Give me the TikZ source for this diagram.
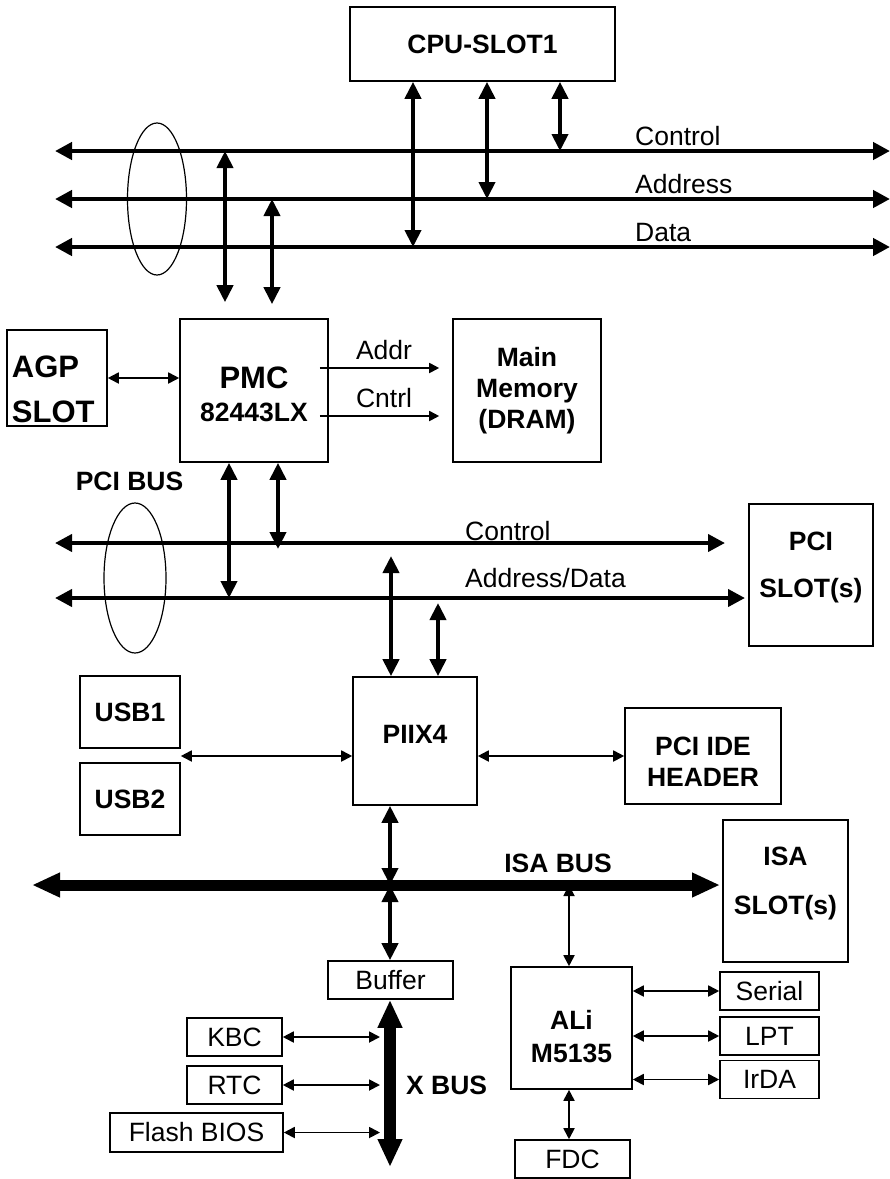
\documentclass[tikz,border=0pt]{standalone}
\usepackage{fontspec}
\setmainfont{Liberation Sans}
\usetikzlibrary{shapes,arrows.meta}

\begin{document}
\begin{tikzpicture}[x=1pt, y=-1pt,
        box/.style={draw, line width=1.6pt, align=center, inner sep=0pt, font=\fontsize{26.5}{31}\selectfont\bfseries},
        lbox/.style={draw, line width=1.6pt, align=center, inner sep=0pt, font=\fontsize{26.5}{31}\selectfont},
        lbl/.style={inner sep=0pt, font=\fontsize{26.5}{31}\selectfont},
        blbl/.style={inner sep=0pt, font=\fontsize{26.5}{31}\selectfont\bfseries},
        bus/.style={line width=4.5pt, {Triangle[length=17pt,width=17pt]}-{Triangle[length=17pt,width=17pt]}},
        tap/.style={line width=4pt, {Triangle[length=17pt,width=16pt]}-{Triangle[length=17pt,width=16pt]}},
        link/.style={line width=1.8pt, {Triangle[length=11pt,width=11pt]}-{Triangle[length=11pt,width=11pt]}},
        single/.style={line width=1.8pt, -{Triangle[length=10pt,width=10pt]}},
        fat/.style={line width=11pt, {Triangle[length=28pt,width=23pt]}-{Triangle[length=28pt,width=23pt]}}]
        \useasboundingbox (0,0) rectangle (890,1179);
        \node [box, minimum width=265, minimum height=74] (cpu) at (482.5,44) {CPU-SLOT1};
        \coordinate (ctlW) at (55,151);
        \coordinate (ctlE) at (890,151);
        \coordinate (adrW) at (55,199);
        \coordinate (adrE) at (890,199);
        \coordinate (datW) at (55,247);
        \coordinate (datE) at (890,247);
        \draw [bus] (ctlW) -- (ctlE);
        \draw [bus] (adrW) -- (adrE);
        \draw [bus] (datW) -- (datE);
        \node [lbl, anchor=base west] (ctlLbl) at (635,145) {Control};
        \node [lbl, anchor=base west] (adrLbl) at (635,193) {Address};
        \node [lbl, anchor=base west] (datLbl) at (635,241) {Data};
        \draw [line width=1.2pt] (157,199) ellipse [x radius=29.5pt, y radius=76pt];
        \coordinate (tapD) at (413,247);
        \coordinate (tapA) at (487,199);
        \coordinate (tapC) at (560,151);
        \draw [tap] (cpu.south -| tapD) -- (tapD);
        \draw [tap] (cpu.south -| tapA) -- (tapA);
        \draw [tap] (cpu.south -| tapC) -- (tapC);

        \node [box, minimum width=100, minimum height=96, text width=90, align=left, font=\fontsize{31}{45}\selectfont\bfseries] (agp) at (57,378) {\rule{0pt}{44pt}AGP\\SLOT};
        \node [box, minimum width=148, minimum height=143] (pmc) at (254,390.5) {{\fontsize{31}{35}\selectfont\rule{0pt}{30pt}PMC}\\[2pt]82443LX};
        \node [box, minimum width=148, minimum height=143] (mem) at (527,390.5) {Main\\Memory\\(DRAM)};
        \coordinate (tapC2) at (225,151);
        \coordinate (tapA2) at (272,199);
        \draw [tap, shorten >=16pt] (tapC2) -- (pmc.north -| tapC2);
        \draw [tap, shorten >=14pt] (tapA2) -- (pmc.north -| tapA2);
        \draw [link] (agp.east) -- (agp.east -| pmc.west);
        \draw [single] ([xshift=-9pt, yshift=22.5pt]pmc.east) -- ([xshift=-13pt, yshift=22.5pt]mem.west);
        \draw [single] ([xshift=-9pt, yshift=-25.5pt]pmc.east) -- ([xshift=-13pt, yshift=-25.5pt]mem.west);
        \node [lbl, anchor=base] (addrLbl) at (384,359) {Addr};
        \node [lbl, anchor=base] (cntrlLbl) at (384,407) {Cntrl};

        \node [blbl, anchor=base] (pciLbl) at (129.5,490) {PCI BUS};
        \coordinate (pctlW) at (55,543);
        \coordinate (pctlE) at (725,543);
        \coordinate (padW) at (55,598);
        \coordinate (padE) at (745,598);
        \draw [bus, line width=4pt] (pctlW) -- (pctlE);
        \draw [bus, line width=4pt] (padW) -- (padE);
        \node [lbl, anchor=base west] (pctlLbl) at (465,540) {Control};
        \node [lbl, anchor=base west] (padLbl) at (465,587) {Address/Data};
        \draw [line width=1.2pt] (135,578) ellipse [x radius=31pt, y radius=75pt];
        \node [box, minimum width=124, minimum height=142] (pcislot) at (811,575) {PCI\\[16pt]SLOT(s)\rule[-20pt]{0pt}{20pt}};
        \coordinate (pD) at (229,598);
        \coordinate (pC) at (278,543);
        \draw [tap] (pmc.south -| pD) -- (pD);
        \draw [tap, shorten >=-6pt] (pmc.south -| pC) -- (pC);

        \node [box, minimum width=124, minimum height=128] (piix4) at (415,741) {PIIX4\rule[-14pt]{0pt}{14pt}};
        \node [box, minimum width=100, minimum height=72] (usb1) at (130,712) {USB1};
        \node [box, minimum width=100, minimum height=72] (usb2) at (130,799) {USB2};
        \node [box, minimum width=156, minimum height=96] (ide) at (703,756) {\rule{0pt}{30pt}PCI IDE\\HEADER};
        \coordinate (pC2) at (391,543);
        \coordinate (pD2) at (438,598);
        \draw [tap, shorten <=13pt] (pC2) -- (piix4.north -| pC2);
        \draw [tap, shorten <=5pt] (pD2) -- (piix4.north -| pD2);
        \draw [link] (ide.west -| usb1.east) -- (ide.west -| piix4.west);
        \draw [link] (ide.west -| piix4.east) -- (ide.west);

        \coordinate (isaW) at (32,885);
        \coordinate (isaE) at (720,885);
        \draw [fat] (isaW) -- (isaE);
        \node [blbl, anchor=base] (isaLbl) at (558,872) {ISA BUS};
        \node [box, minimum width=125, minimum height=142] (isaslot) at (785.5,891) {ISA\\[18pt]SLOT(s)\rule[-20pt]{0pt}{20pt}};
        \node [lbox, minimum width=125, minimum height=38] (buffer) at (390.5,980) {Buffer};
        \node [box, minimum width=121, minimum height=122] (ali) at (571.5,1028) {\rule{0pt}{36pt}ALi\\[2pt]M5135};
        \coordinate (iP) at (390,885);
        \coordinate (iA) at (569,885);
        \draw [tap] (piix4.south -| iP) -- (iP);
        \draw [tap] (iP) -- (buffer.north -| iP);
        \draw [link] (iA) -- (ali.north -| iA);

        \node [lbox, minimum width=95, minimum height=38] (kbc) at (234.5,1037) {KBC};
        \node [lbox, minimum width=95, minimum height=38] (rtc) at (234.5,1085) {RTC};
        \node [lbox, minimum width=173, minimum height=39] (bios) at (196.5,1132.5) {Flash BIOS};
        \coordinate (xE) at (390,1167);
        \draw [fat, line width=12pt] (buffer.south -| xE) -- (xE);
        \node [blbl, anchor=base west] (xLbl) at (406,1094) {X BUS};
        \draw [link, shorten >=10pt] (kbc.east) -- (kbc.east -| xE);
        \draw [link, shorten >=10pt] (rtc.east) -- (rtc.east -| xE);
        \draw [link, shorten >=10pt] (bios.east) -- (bios.east -| xE);

        \node [lbox, minimum width=99, minimum height=38] (serial) at (769.5,991) {Serial};
        \node [lbox, minimum width=99, minimum height=38] (lpt) at (769.5,1036) {LPT};
        \node [lbox, minimum width=99, minimum height=38] (irda) at (769.5,1079.5) {IrDA};
        \node [lbox, minimum width=115, minimum height=38] (fdc) at (572.5,1159) {FDC};
        \draw [link] (serial.west -| ali.east) -- (serial.west);
        \draw [link] (lpt.west -| ali.east) -- (lpt.west);
        \draw [link] (irda.west -| ali.east) -- (irda.west);
        \draw [link] (ali.south -| iA) -- (fdc.north -| iA);
    \end{tikzpicture}
\end{document}
